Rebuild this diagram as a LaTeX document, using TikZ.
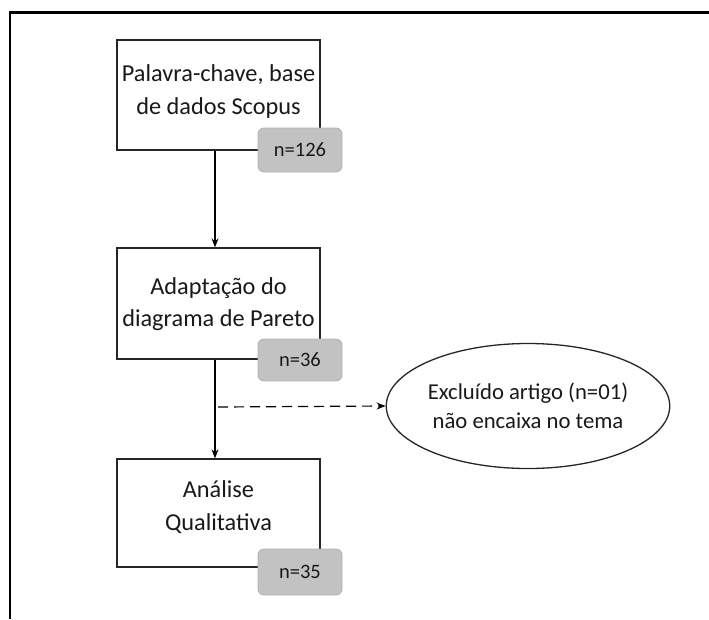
\documentclass[tikz,border=0pt]{standalone}
\usepackage{fontspec}
\setmainfont{Carlito}
\usetikzlibrary{shapes.geometric,arrows.meta,calc}
\tikzset{
  stepbox/.style={draw=black!85,line width=1.3pt,fill=white,minimum width=203pt,inner sep=0pt},
  steptext/.style={align=center,font=\fontsize{24.3}{32.5}\selectfont,text=black!90,inner sep=0pt},
  badge/.style={draw=black!30,line width=0.8pt,fill=black!24,rounded corners=6pt,minimum width=84pt,
    font=\fontsize{20.5}{24}\selectfont,text=black!90,inner sep=0pt},
  flow/.style={draw=black,line width=1.2pt,-{Stealth[length=9pt,width=7pt]}},
  frame/.style={draw=black,line width=2.6pt}
}
\begin{document}
\begin{tikzpicture}[x=1pt,y=-1pt]
\useasboundingbox (0,0) rectangle (709,619);
\draw[frame] (10,619) -- (10,12.5) -- (709,12.5);
\node[stepbox,minimum height=110pt] (b1) at (218.5,95) {};
\node[stepbox,minimum height=111pt] (b2) at (218.5,303.5) {};
\node[stepbox,minimum height=108pt] (b3) at (218.5,513) {};
\node[steptext] (t1) at (218.5,91.5) {Palavra-chave, base\\de dados Scopus};
\node[steptext] (t2) at (218.5,304) {Adaptação do\\diagrama de Pareto};
\node[steptext] (t3) at (218.5,507) {Análise\\Qualitativa};
\node[badge,minimum height=44pt] (n1) at (300,150) {n=126};
\node[badge,minimum height=42pt] (n2) at (300,360) {n=36};
\node[badge,minimum height=46pt] (n3) at (300,572) {n=35};
\node[ellipse,draw=black!85,line width=1.3pt,minimum width=265pt,minimum height=125pt,inner sep=0pt,align=center,
  font=\fontsize{22.7}{29}\selectfont,text=black!90] (ex) at (528,406) {Excluído artigo (n=01)\\não encaixa no tema};
\coordinate (a1) at ($(b1.south)+(-3.5,0)$);
\coordinate (a2) at ($(b2.north)+(-3.5,0)$);
\coordinate (a3) at ($(b2.south)+(-3.5,0)$);
\coordinate (a4) at ($(b3.north)+(-3.5,0)$);
\coordinate (d0) at (218,407);
\draw[flow] (a1) -- (a2);
\draw[flow] (a3) -- (a4);
\draw[flow,dashed,dash pattern=on 10pt off 6pt] (d0) -- (ex.west);
\end{tikzpicture}
\end{document}
